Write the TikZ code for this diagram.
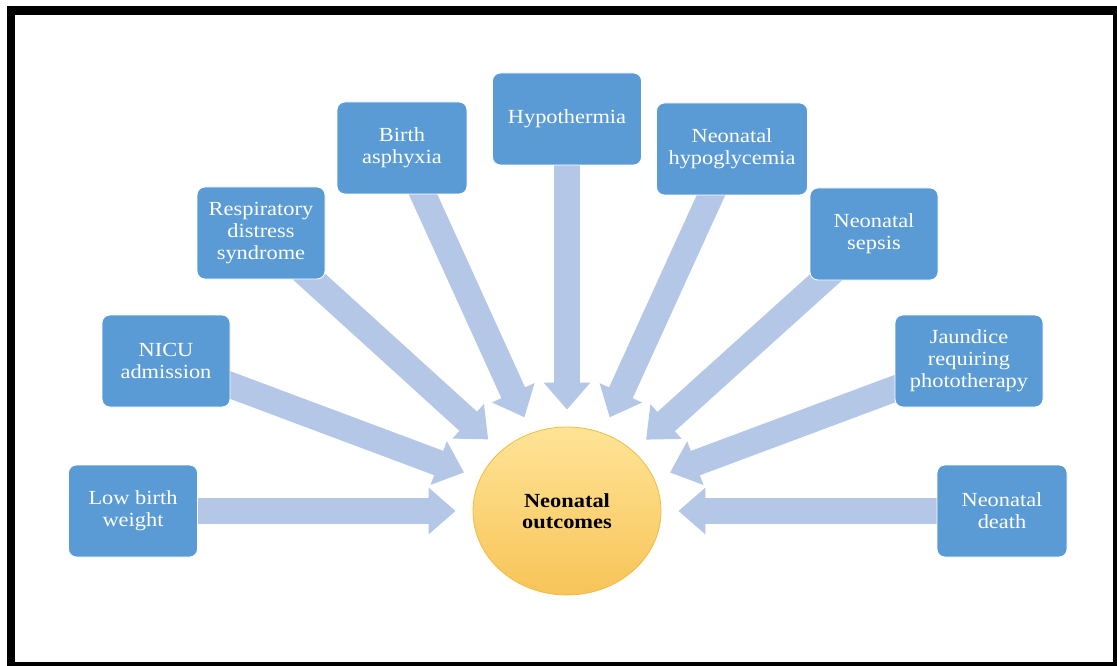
\documentclass[tikz,border=0pt]{standalone}
\usepackage{fontspec}
\setmainfont{Liberation Serif}[FakeStretch=1.12]
\usetikzlibrary{arrows.meta, shapes.geometric, backgrounds}
\definecolor{boxblue}{RGB}{91,155,213}
\definecolor{arrowblue}{RGB}{180,199,231}
\definecolor{sunlight}{RGB}{255,228,150}
\definecolor{sundark}{RGB}{247,196,88}
\definecolor{sunedge}{RGB}{240,188,70}

\begin{document}
\begin{tikzpicture}[x=1pt, y=-1pt,
    factor/.style={rectangle, rounded corners=8pt, draw=white, line width=0.8pt, fill=boxblue, text=white, align=center, minimum width=128pt, minimum height=92pt, inner sep=2pt, font=\fontsize{20}{22}\selectfont},
    outcome/.style={ellipse, minimum width=188pt, minimum height=168pt, inner sep=0pt, top color=sunlight, bottom color=sundark, draw=sunedge, line width=0.8pt, align=center, font=\fontsize{20}{21}\selectfont\bfseries},
    bigarrow/.style={draw=arrowblue, line width=26pt, -{Triangle[length=27pt, width=45pt]}, shorten >=17pt}]
\useasboundingbox (0,0) rectangle (1117,666);
\draw[line width=8.5pt] (11,10.5) rectangle (1117,666);
% centre and risk factors
\node (outc) [outcome] at (567,511) {Neonatal\\outcomes};
\node (lbw) [factor, minimum width=129pt] at (133,511) {Low birth\\weight};
\node (nicu) [factor] at (166,361) {NICU\\admission};
\node (rds) [factor] at (261,233) {Respiratory\\distress\\syndrome};
\node (asph) [factor, minimum width=130pt] at (402,148) {Birth\\asphyxia};
\node (hypo) [factor, minimum width=149pt] at (567,119) {Hypothermia};
\node (hypog) [factor, minimum width=151pt] at (732,149) {Neonatal\\hypoglycemia};
\node (sepsis) [factor] at (874,234) {Neonatal\\sepsis};
\node (jaund) [factor, minimum width=148pt] at (969,361) {Jaundice\\requiring\\phototherapy};
\node (death) [factor, minimum width=130pt] at (1002,511) {Neonatal\\death};
% arrows behind the boxes
\begin{scope}[on background layer]
\fill[white] (0,0) rectangle (1117,666);
\foreach \src in {lbw, nicu, rds, asph, hypo, hypog, sepsis, jaund, death}
    \draw [bigarrow] (\src.center) -- (outc);
\end{scope}
\end{tikzpicture}
\end{document}
